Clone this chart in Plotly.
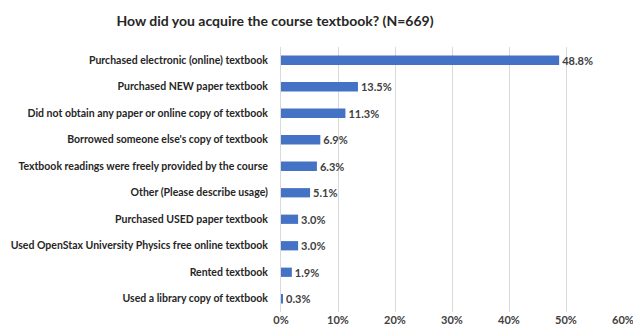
import plotly.graph_objects as go

categories = [
    "Purchased electronic (online) textbook",
    "Purchased NEW paper textbook",
    "Did not obtain any paper or online copy of textbook",
    "Borrowed someone else's copy of textbook",
    "Textbook readings were freely provided by the course",
    "Other (Please describe usage)",
    "Purchased USED paper textbook",
    "Used OpenStax University Physics free online textbook",
    "Rented textbook",
    "Used a library copy of textbook",
]
values = [48.8, 13.5, 11.3, 6.9, 6.3, 5.1, 3.0, 3.0, 1.9, 0.3]
tick_vals = [0, 10, 20, 30, 40, 50, 60]
tick_text = ["0%", "10%", "20%", "30%", "40%", "50%", "60%"]

FONT = "Lato"
TXT = "#404040"

fig = go.Figure(go.Bar(
    x=values, y=categories, orientation="h",
    marker=dict(color="#4472C4", line=dict(width=0)),
    text=[f"{v:.1f}%" for v in values],
    textposition="outside",
    constraintext="none",
    textfont=dict(family=FONT, size=11, color=TXT, weight="bold"),
    cliponaxis=False,
))

fig.update_layout(
    width=633, height=331,
    margin=dict(l=281, r=10, t=47, b=19, autoexpand=False),
    paper_bgcolor="white", plot_bgcolor="white",
    bargap=0.65,
    showlegend=False,
    title=dict(
        text="How did you acquire the course textbook? (N=669)",
        x=275/633, xanchor="center", xref="container",
        y=1 - 21/331, yanchor="middle", yref="container",
        font=dict(family=FONT, size=14, color="#262626", weight="bold"),
    ),
    xaxis=dict(
        range=[0, 60], tickvals=tick_vals, ticktext=tick_text,
        showgrid=True, gridcolor="#d9d9d9", gridwidth=1,
        zeroline=False, showline=False,
        tickfont=dict(family=FONT, size=11, color=TXT, weight="bold"),
        ticks="", fixedrange=True, automargin=False,
        ticklabeloverflow="allow",
    ),
    yaxis=dict(
        categoryorder="array", categoryarray=categories,
        autorange="reversed", automargin=False,
        showline=True, linecolor="#d9d9d9", linewidth=1,
        showgrid=False, ticks="",
        ticklabelstandoff=10,
        tickfont=dict(family=FONT, size=10.5, color="#262626", weight="bold"),
    ),
)

fig.write_html("out.html")
